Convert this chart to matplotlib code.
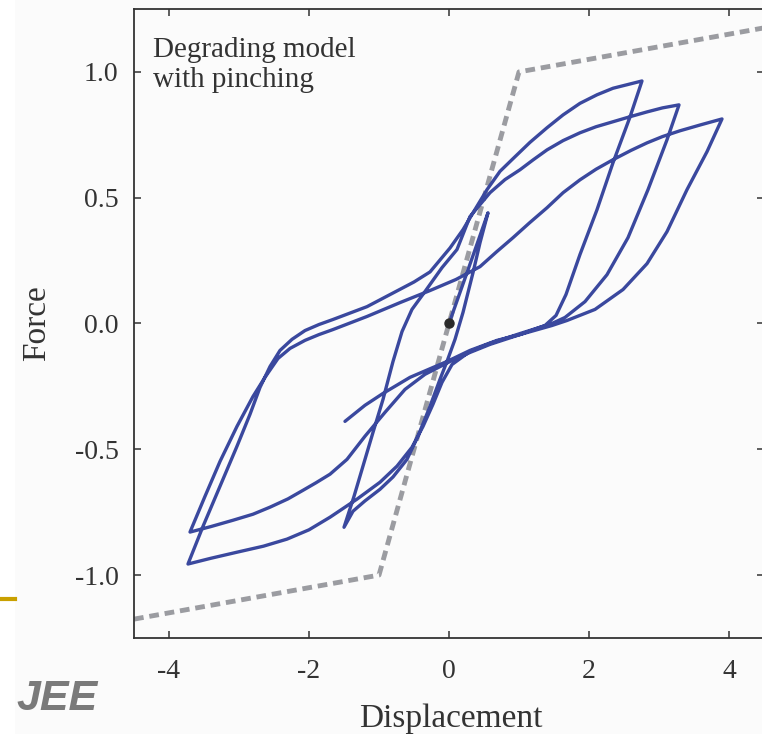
import numpy as np
import matplotlib.pyplot as plt
from matplotlib.lines import Line2D
from matplotlib.patches import Rectangle

plt.rcParams['font.family'] = ['Liberation Serif', 'DejaVu Serif']
plt.rcParams['axes.unicode_minus'] = False

# backbone (dashed grey)
bb_disp = [-4.5, -1.0, 1.0, 4.5]
bb_force = [-1.175, -1.0, 1.0, 1.175]

# hysteresis path, branch by branch (displacement, force)
# 0 -> 0.56 -> -1.5 -> 3.3 -> -3.7 -> 2.75 -> -3.7 -> 3.9 -> -1.5
load0_d = [0.0, 0.28, 0.557]
load0_f = [0.0, 0.22, 0.44]

unl1_d = [0.557, 0.443, 0.343, 0.2, 0.086, -0.029, -0.129, -0.271, -0.443, -0.6,
          -0.8, -0.986, -1.2, -1.371, -1.5]
unl1_f = [0.44, 0.321, 0.202, 0.044, -0.063, -0.151, -0.222, -0.329, -0.448, -0.54,
          -0.61, -0.659, -0.705, -0.746, -0.81]

rel2_d = [-1.5, -1.357, -1.229, -1.086, -0.943, -0.8, -0.671, -0.529, -0.343, -0.1,
          0.114, 0.3, 0.586, 0.8, 1.014, 1.2, 1.4, 1.63, 1.871, 2.1, 2.343, 2.6, 2.829,
          3.05, 3.286]
rel2_f = [-0.81, -0.687, -0.567, -0.433, -0.302, -0.151, -0.032, 0.056, 0.127, 0.222,
          0.294, 0.425, 0.52, 0.572, 0.611, 0.65, 0.69, 0.727, 0.758, 0.782, 0.802,
          0.823, 0.841, 0.857, 0.869]

unl3_d = [3.286, 3.114, 2.843, 2.557, 2.257, 1.943, 1.657, 1.471, 1.014, 0.586, 0.3,
          0.043, -0.1, -0.229, -0.371, -0.529, -0.743, -0.986, -1.314, -1.7, -2.0,
          -2.314, -2.65, -3.029, -3.4, -3.729]
unl3_f = [0.869, 0.73, 0.532, 0.341, 0.194, 0.087, 0.024, 0.0, -0.04, -0.079, -0.111,
          -0.163, -0.234, -0.321, -0.409, -0.492, -0.567, -0.631, -0.698, -0.77, -0.82,
          -0.857, -0.885, -0.909, -0.933, -0.956]

rel4_d = [-3.729, -3.514, -3.271, -3.029, -2.843, -2.7, -2.557, -2.414, -2.243, -2.057,
          -1.857, -1.657, -1.171, -0.843, -0.5, -0.271, 0.014, 0.2, 0.343, 0.543, 0.729,
          0.914, 1.157, 1.4, 1.629, 1.871, 2.114, 2.343, 2.586, 2.757]
rel4_f = [-0.956, -0.806, -0.647, -0.488, -0.361, -0.254, -0.171, -0.107, -0.063, -0.028,
          -0.004, 0.016, 0.067, 0.115, 0.165, 0.205, 0.3, 0.373, 0.44, 0.532, 0.605,
          0.655, 0.72, 0.778, 0.829, 0.875, 0.909, 0.935, 0.952, 0.964]

unl5_d = [2.757, 2.586, 2.343, 2.114, 1.871, 1.671, 1.529, 1.371, 1.014, 0.586, 0.3,
          0.014, -0.343, -0.629, -0.914, -1.2, -1.457, -1.7, -1.9, -2.086, -2.3, -2.557,
          -2.8, -3.086, -3.4, -3.7]
unl5_f = [0.964, 0.821, 0.639, 0.452, 0.274, 0.115, 0.032, -0.008, -0.044, -0.083, -0.115,
          -0.151, -0.202, -0.262, -0.353, -0.448, -0.54, -0.599, -0.633, -0.663, -0.697,
          -0.73, -0.758, -0.782, -0.807, -0.829]

rel6_d = [-3.7, -3.486, -3.271, -3.029, -2.8, -2.629, -2.443, -2.271, -2.057, -1.857,
          -1.657, -1.171, -0.7, -0.271, 0.1, 0.443, 0.68, 0.914, 1.15, 1.4, 1.63, 1.871,
          2.1, 2.343, 2.6, 2.829, 3.05, 3.3, 3.6, 3.9]
rel6_f = [-0.829, -0.687, -0.548, -0.409, -0.29, -0.214, -0.139, -0.099, -0.067, -0.044,
          -0.024, 0.028, 0.083, 0.131, 0.175, 0.226, 0.285, 0.341, 0.4, 0.46, 0.52, 0.571,
          0.613, 0.651, 0.688, 0.718, 0.743, 0.766, 0.79, 0.813]

unl7_d = [3.9, 3.686, 3.4, 3.114, 2.829, 2.486, 2.086, 1.686, 1.471, 1.014, 0.686, 0.3,
          -0.029, -0.557, -0.943, -1.2, -1.486]
unl7_f = [0.813, 0.683, 0.532, 0.365, 0.238, 0.135, 0.056, 0.012, -0.008, -0.044, -0.067,
          -0.107, -0.151, -0.214, -0.278, -0.325, -0.389]

branches_d = [load0_d, unl1_d, rel2_d, unl3_d, rel4_d, unl5_d, rel6_d, unl7_d]
branches_f = [load0_f, unl1_f, rel2_f, unl3_f, rel4_f, unl5_f, rel6_f, unl7_f]

disp = np.concatenate([b if i == 0 else b[1:] for i, b in enumerate(branches_d)])
force = np.concatenate([b if i == 0 else b[1:] for i, b in enumerate(branches_f)])

xticks = [-4, -2, 0, 2, 4]
yticks = [-1.0, -0.5, 0.0, 0.5, 1.0]

W, H = 762, 734
bg = '#fbfbfb'
txt = '#333333'
fig = plt.figure(figsize=(W / 100, H / 100), dpi=100, facecolor=bg)
ax = fig.add_axes([134 / W, 1 - 638 / H, 630 / W, 629 / H], facecolor=bg)

ax.plot(bb_disp, bb_force, color='#9b9ca1', lw=3.5, dashes=(2.0, 1.2),
        solid_joinstyle='round', zorder=1)
ax.plot(disp, force, color='#3a489e', lw=2.4, solid_joinstyle='round',
        solid_capstyle='round', zorder=2)
ax.plot([0], [0], 'o', color='#2a2a2a', ms=6.5, zorder=3)

ax.set_xlim(-4.5, 4.5)
ax.set_ylim(-1.25, 1.25)
ax.set_xticks(xticks)
ax.set_yticks(yticks)
ax.set_xticklabels([str(t) for t in xticks])
ax.set_yticklabels(['%.1f' % t for t in yticks])
ax.tick_params(direction='in', length=5, width=1.1, color=txt, labelcolor=txt,
               labelsize=20, top=True, right=True)
ax.tick_params(axis='x', pad=15)
ax.tick_params(axis='y', pad=11)
for s in ax.spines.values():
    s.set_color(txt)
    s.set_linewidth(1.3)

ax.set_xlabel('Displacement', fontsize=24, color=txt)
ax.set_ylabel('Force', fontsize=24, color=txt)
ax.xaxis.set_label_coords(0.503, -0.104)
ax.yaxis.set_label_coords(-0.13, 0.5)

ax.text(0.03, 0.955, 'Degrading model\nwith pinching', transform=ax.transAxes,
        fontsize=21, color=txt, va='top', ha='left', linespacing=1.2)

# page artefacts at the left margin
fig.add_artist(Rectangle((0, 0), 15 / W, 1, transform=fig.transFigure,
                         facecolor='white', edgecolor='none', zorder=-1))
fig.add_artist(Line2D([0, 15 / W], [1 - 599 / H] * 2, transform=fig.transFigure,
                      color='#c9a000', lw=3))
fig.text(16 / W, 1 - 710 / H, 'JEE', fontsize=31, fontweight='bold', fontstyle='italic',
         color='#7a7a7a', family=['Liberation Sans', 'DejaVu Sans'], va='baseline')

fig.savefig('out.png', dpi=100, facecolor=bg)
